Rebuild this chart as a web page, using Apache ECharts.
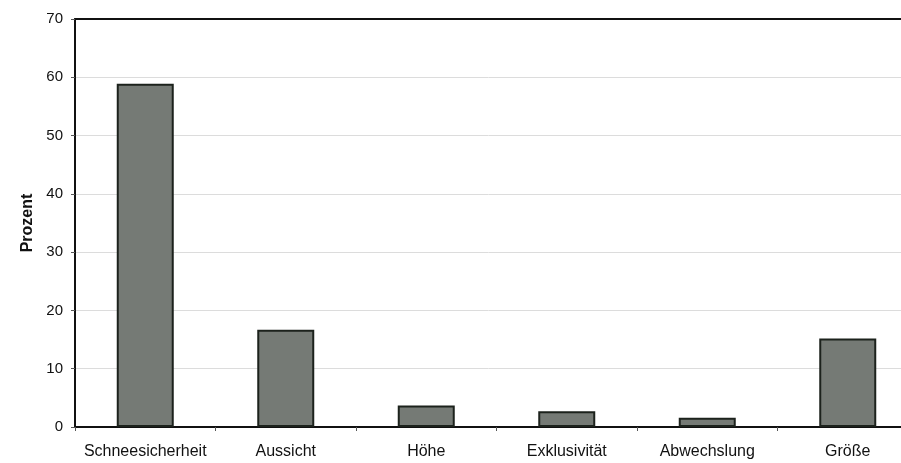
<!DOCTYPE html>
<html>
<head>
<meta charset="utf-8">
<script src="https://cdn.jsdelivr.net/npm/echarts@6/dist/echarts.min.js"></script>
<style>
  html, body { margin: 0; padding: 0; background: #ffffff; overflow: hidden; }
  #chart { width: 901px; height: 463px; }
</style>
</head>
<body>
<div id="chart"></div>
<script>
// Kriterien bei der Wahl des Skigebiets (Anteil in Prozent)
const categories = ['Schneesicherheit', 'Aussicht', 'Höhe', 'Exklusivität', 'Abwechslung', 'Größe'];
const prozent = [58.9, 16.7, 3.7, 2.7, 1.6, 15.2];
const yTicks = [0, 10, 20, 30, 40, 50, 60, 70];

const chart = echarts.init(document.getElementById('chart'), null, { renderer: 'canvas' });

const labelFont = { fontFamily: 'Liberation Sans, Arial, sans-serif', color: '#111111' };

chart.setOption({
  animation: false,
  backgroundColor: '#ffffff',
  // the plot runs past the right edge of the page, so the last band is cut off
  grid: { left: 75, top: 19, width: 843, bottom: 36, containLabel: false, outerBoundsMode: 'none' },
  xAxis: [
    {
      type: 'category',
      data: categories,
      position: 'bottom',
      axisLine: { lineStyle: { color: '#111111', width: 2 } },
      axisTick: { show: true, alignWithLabel: false, length: 4, lineStyle: { color: '#555555', width: 1 } },
      axisLabel: Object.assign({ fontSize: 16, margin: 17, interval: 0 }, labelFont),
      splitLine: { show: false }
    },
    {
      type: 'category',
      data: categories,
      position: 'top',
      axisLine: { lineStyle: { color: '#111111', width: 2 } },
      axisTick: { show: false },
      axisLabel: { show: false }
    }
  ],
  yAxis: {
    type: 'value',
    min: yTicks[0],
    max: yTicks[yTicks.length - 1],
    interval: 10,
    name: 'Prozent',
    nameLocation: 'middle',
    nameRotate: 90,
    nameGap: 39,
    nameTextStyle: Object.assign({ fontSize: 16, fontWeight: 'bold' }, labelFont),
    axisLine: { show: true, lineStyle: { color: '#111111', width: 2 } },
    axisTick: { show: true, length: 4, lineStyle: { color: '#555555', width: 1 } },
    axisLabel: Object.assign({ fontSize: 15, margin: 12 }, labelFont),
    splitLine: {
      show: true,
      lineStyle: { color: '#dcdcdc', width: 1 }
    }
  },
  series: [{
    type: 'bar',
    data: prozent,
    barWidth: 57,
    itemStyle: {
      color: '#757a75',
      borderColor: '#1c221c',
      borderWidth: 2
    }
  }]
});
</script>
</body>
</html>
